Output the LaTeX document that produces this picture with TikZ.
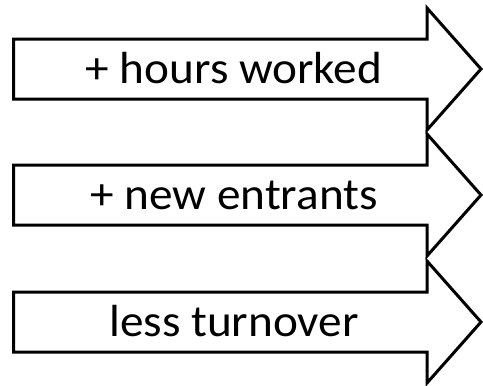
\documentclass[tikz,border=0pt]{standalone}
\usepackage{fontspec}
\setmainfont{Carlito}
\begin{document}
\begin{tikzpicture}[x=1pt,y=-1pt,
    arrowbox/.style={draw=black,line width=3pt,fill=white,miter limit=4},
    arrowtext/.style={anchor=base,inner sep=0pt,xscale=1.05,font=\fontsize{45}{45}\selectfont}]
    \useasboundingbox (0,0) rectangle (483,386);
    \def\l{13.5}
    \def\b{427}
    \def\t{481}
    \foreach \y/\name/\txt in {69/hours/{+ hours worked},195/entrants/{+ new entrants},322/turnover/{less turnover}} {
      \draw[arrowbox] (\l,\y-30) -- (\b,\y-30) -- (\b,\y-61) -- (\t,\y)
        -- (\b,\y+61) -- (\b,\y+30) -- (\l,\y+30) -- cycle;
      \node[arrowtext] (\name) at (234,\y+14) {\txt};
    }
\end{tikzpicture}
\end{document}
